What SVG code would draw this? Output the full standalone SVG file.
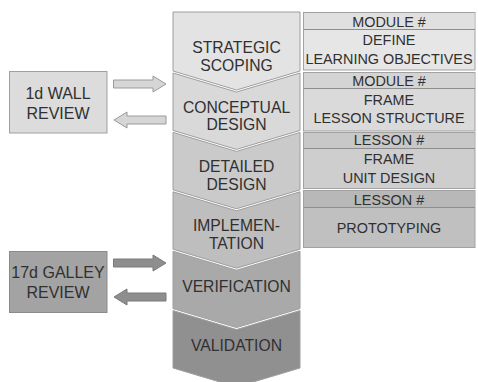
<svg xmlns="http://www.w3.org/2000/svg" width="478" height="382" viewBox="0 0 478 382">
  <defs>
    <style>
      .lbl { font-family: "Liberation Sans", Arial, sans-serif; fill: #303030; text-anchor: middle; }
      .stage { font-size: 15.7px; }
      .task { font-size: 14.4px; }
      .rev { font-size: 16px; }
      .chev { stroke: #9e9e9e; stroke-width: 1; }
      .box { stroke: #a2a2a2; stroke-width: 1; }
      .sep { stroke: #8e8e8e; stroke-width: 1; fill: none; }
      .arrow-light { fill: #d6d6d6; stroke: #9a9a9a; stroke-width: 1; }
      .arrow-dark { fill: #8e8e8e; stroke: #7a7a7a; stroke-width: 1; }
    </style>
  </defs>
  <rect width="478" height="382" fill="#ffffff"/>

  <!-- process stages (chevron column) -->
  <g id="stage-strategic-scoping">
    <polygon class="chev" fill="#e3e3e3" points="173,12 300,12 300,71 236.5,90 173,71"/>
    <text class="lbl stage" x="236.5" y="53.3">STRATEGIC</text>
    <text class="lbl stage" x="236.5" y="71">SCOPING</text>
  </g>
  <g id="stage-conceptual-design">
    <polygon class="chev" fill="#d9d9d9" points="173,73 236.5,92 300,73 300,130.4 236.5,149.4 173,130.4"/>
    <text class="lbl stage" x="236.5" y="112.7">CONCEPTUAL</text>
    <text class="lbl stage" x="236.5" y="130.4">DESIGN</text>
  </g>
  <g id="stage-detailed-design">
    <polygon class="chev" fill="#cacaca" points="173,132.4 236.5,151.4 300,132.4 300,189.8 236.5,208.8 173,189.8"/>
    <text class="lbl stage" x="236.5" y="172">DETAILED</text>
    <text class="lbl stage" x="236.5" y="190">DESIGN</text>
  </g>
  <g id="stage-implementation">
    <polygon class="chev" fill="#bebebe" points="173,191.8 236.5,210.8 300,191.8 300,249.2 236.5,268.2 173,249.2"/>
    <text class="lbl stage" x="236.5" y="231">IMPLEMEN-</text>
    <text class="lbl stage" x="236.5" y="249.2">TATION</text>
  </g>
  <g id="stage-verification">
    <polygon class="chev" fill="#a9a9a9" points="173,251.2 236.5,270.2 300,251.2 300,308.6 236.5,327.6 173,308.6"/>
    <text class="lbl stage" x="236.5" y="291.5">VERIFICATION</text>
  </g>
  <g id="stage-validation">
    <polygon class="chev" fill="#909090" points="173,310.6 236.5,329.6 300,310.6 300,368 236.5,387 173,368"/>
    <text class="lbl stage" x="236.5" y="350.5">VALIDATION</text>
  </g>

  <!-- deliverables (right column) -->
  <g id="task-learning-objectives">
    <rect class="box" x="303.5" y="12.5" width="171.5" height="57.5" fill="#e6e6e6"/>
    <rect x="304" y="13" width="170.5" height="16" fill="#e0e0e0"/>
    <line class="sep" x1="303.5" y1="29.5" x2="475" y2="29.5"/>
    <text class="lbl task" x="389" y="26.5">MODULE #</text>
    <text class="lbl task" x="389" y="45">DEFINE</text>
    <text class="lbl task" x="389" y="63.5">LEARNING OBJECTIVES</text>
  </g>
  <g id="task-lesson-structure">
    <rect class="box" x="303.5" y="72.5" width="171.5" height="58.5" fill="#dadada"/>
    <rect x="304" y="73" width="170.5" height="15" fill="#d4d4d4"/>
    <line class="sep" x1="303.5" y1="88.5" x2="475" y2="88.5"/>
    <text class="lbl task" x="389" y="85.5">MODULE #</text>
    <text class="lbl task" x="389" y="104.5">FRAME</text>
    <text class="lbl task" x="389" y="123">LESSON STRUCTURE</text>
  </g>
  <g id="task-unit-design">
    <rect class="box" x="303.5" y="132.5" width="171.5" height="56" fill="#cecece"/>
    <rect x="304" y="133" width="170.5" height="15" fill="#c8c8c8"/>
    <line class="sep" x1="303.5" y1="148.5" x2="475" y2="148.5"/>
    <text class="lbl task" x="389" y="145">LESSON #</text>
    <text class="lbl task" x="389" y="164">FRAME</text>
    <text class="lbl task" x="389" y="182.5">UNIT DESIGN</text>
  </g>
  <g id="task-prototyping">
    <rect class="box" x="303.5" y="190.5" width="171.5" height="57" fill="#c0c0c0"/>
    <rect x="304" y="191" width="170.5" height="16" fill="#b8b8b8"/>
    <line class="sep" x1="303.5" y1="207.5" x2="475" y2="207.5"/>
    <text class="lbl task" x="389" y="204.5">LESSON #</text>
    <text class="lbl task" x="389" y="233">PROTOTYPING</text>
  </g>

  <!-- review gates (left column) -->
  <g id="review-wall">
    <rect x="9.5" y="71.5" width="97.5" height="61.5" fill="#dcdcdc" stroke="#a0a0a0" stroke-width="1"/>
    <text class="lbl rev" x="58" y="98.5">1d WALL</text>
    <text class="lbl rev" x="58" y="118.5">REVIEW</text>
  </g>
  <g id="review-galley">
    <rect x="9.5" y="251.5" width="97.5" height="61" fill="#a3a3a3" stroke="#8a8a8a" stroke-width="1"/>
    <text class="lbl rev" x="58" y="278">17d GALLEY</text>
    <text class="lbl rev" x="58" y="298">REVIEW</text>
  </g>

  <!-- connectors between reviews and stages -->
  <g id="connectors">
    <polygon class="arrow-light" points="113.5,80 153,80 153,76 166,84 153,92 153,88 113.5,88"/>
    <polygon class="arrow-light" points="166,116 127,116 127,112 114,120 127,128 127,124 166,124"/>
    <polygon class="arrow-dark" points="113.5,259 153,259 153,255 166,263 153,271 153,267 113.5,267"/>
    <polygon class="arrow-dark" points="166,293 127,293 127,289 114,297 127,305 127,301 166,301"/>
  </g>
</svg>
